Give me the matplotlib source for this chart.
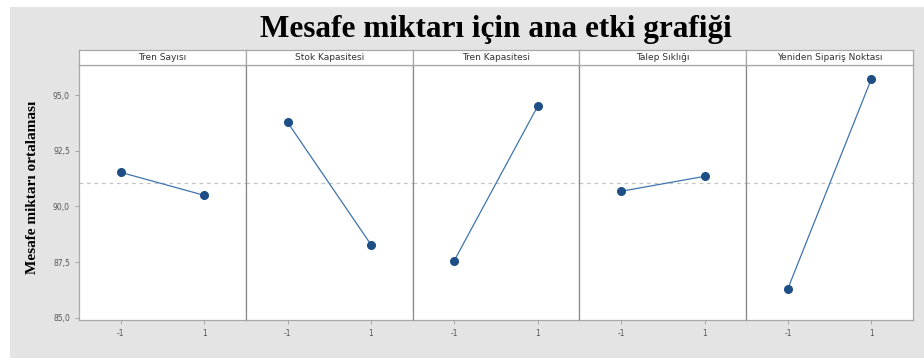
import matplotlib.pyplot as plt
from matplotlib.patches import Rectangle
from matplotlib.ticker import FuncFormatter

# factor names and the mean response at levels -1 / 1
factors = ['Tren Sayısı', 'Stok Kapasitesi', 'Tren Kapasitesi', 'Talep Sıklığı', 'Yeniden Sipariş Noktası']
levels = [-1, 1]
low_means = [91.53, 93.78, 87.57, 90.68, 86.31]
high_means = [90.50, 88.29, 94.50, 91.35, 95.72]
grand_mean = 91.03
yticks = [85.0, 87.5, 90.0, 92.5, 95.0]

W, H = 924, 358
fig = plt.figure(figsize=(W / 100, H / 100), dpi=100)
fig.patch.set_facecolor('white')
# gray backdrop like the minitab graph window
fig.add_artist(Rectangle((10 / W, 0), 1 - 10 / W, 1 - 7 / H, transform=fig.transFigure,
                         facecolor='#e4e4e4', edgecolor='none', zorder=0))

left, right = 79, 913
top, bottom = 65, 320
strip_top = 50
pw = (right - left) / len(factors)

fig.text(496 / W, 1 - 30 / H, 'Mesafe miktarı için ana etki grafiği', ha='center', va='center',
         family='Liberation Serif', weight='bold', fontsize=22.5)
fig.text(33 / W, 1 - 187 / H, 'Mesafe miktarı ortalaması', ha='center', va='center', rotation=90,
         family='Liberation Serif', weight='bold', fontsize=11)

edge = '#a8a8a8'
for i, name in enumerate(factors):
    x0 = (left + i * pw) / W
    ax = fig.add_axes([x0, 1 - bottom / H, pw / W, (bottom - top) / H])
    ax.plot(levels, [low_means[i], high_means[i]], color='#3f74ad', lw=0.9, zorder=3)
    ax.plot(levels, [low_means[i], high_means[i]], 'o', color='#1d4f86', ms=5.5, zorder=4)
    ax.axhline(grand_mean, color='#c4c4c4', lw=0.9, ls=(0, (3, 3)), zorder=2)
    ax.set_xlim(-2, 2)
    ax.set_ylim(84.9, 96.35)
    ax.set_xticks(levels)
    ax.set_xticklabels(['-1', '1'])
    ax.set_yticks(yticks)
    ax.yaxis.set_major_formatter(FuncFormatter(lambda v, p: f'{v:.1f}'.replace('.', ',')))
    ax.tick_params(labelsize=5.5, colors='#999999', length=3, width=0.6, labelcolor='#555555')
    if i > 0:
        ax.tick_params(axis='y', left=False, labelleft=False)
    for s in ax.spines.values():
        s.set_color(edge)
        s.set_linewidth(0.9)
    if i > 0:
        ax.spines['left'].set_color('#888888')

    sax = fig.add_axes([x0, 1 - top / H, pw / W, (top - strip_top) / H])
    sax.set_xticks([])
    sax.set_yticks([])
    for s in sax.spines.values():
        s.set_color(edge)
        s.set_linewidth(0.9)
    sax.text(0.5, 0.5, name, ha='center', va='center', fontsize=6.5, color='#333333',
             transform=sax.transAxes)

fig.savefig('out.png', dpi=100)
